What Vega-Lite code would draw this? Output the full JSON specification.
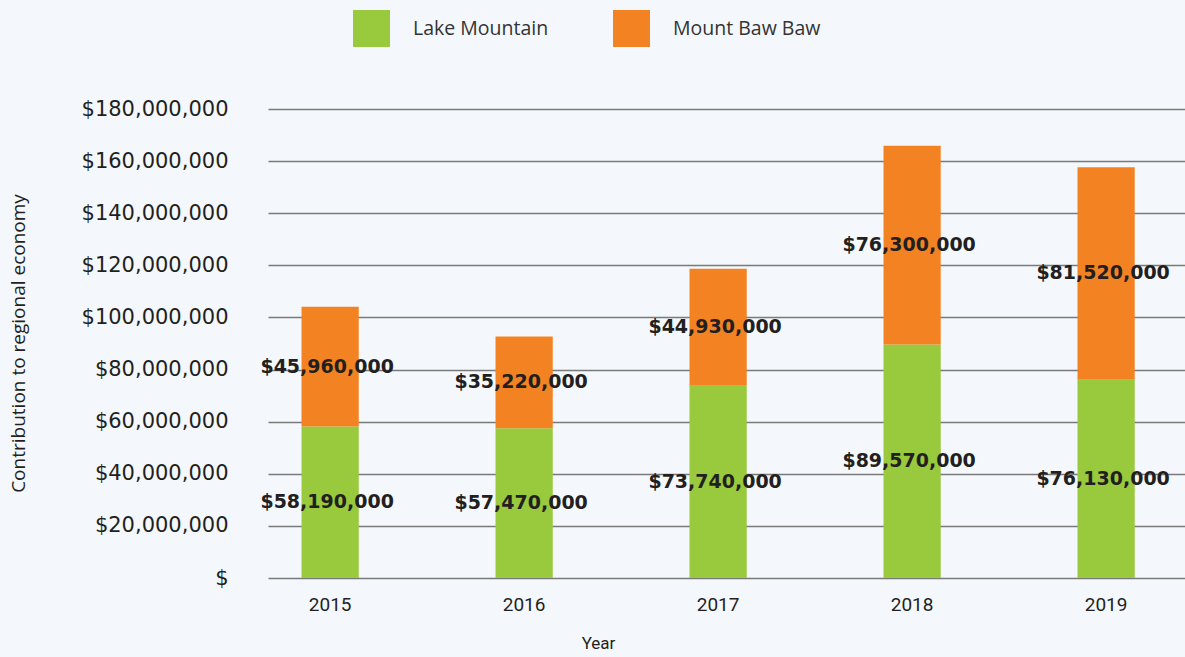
{
  "$schema": "https://vega.github.io/schema/vega-lite/v6.json",
  "width": 917,
  "height": 469,
  "autosize": {"type": "none"},
  "padding": {"left": 268, "top": 109, "right": 0, "bottom": 79},
  "background": "#f4f8fc",
  "config": {"view": {"stroke": null}, "font": "Open Sans"},
  "data": {
    "values": [
      {"year": "2015", "site": "Lake Mountain", "value": 58190000},
      {"year": "2015", "site": "Mount Baw Baw", "value": 45960000},
      {"year": "2016", "site": "Lake Mountain", "value": 57470000},
      {"year": "2016", "site": "Mount Baw Baw", "value": 35220000},
      {"year": "2017", "site": "Lake Mountain", "value": 73740000},
      {"year": "2017", "site": "Mount Baw Baw", "value": 44930000},
      {"year": "2018", "site": "Lake Mountain", "value": 89570000},
      {"year": "2018", "site": "Mount Baw Baw", "value": 76300000},
      {"year": "2019", "site": "Lake Mountain", "value": 76130000},
      {"year": "2019", "site": "Mount Baw Baw", "value": 81520000}
    ]
  },
  "encoding": {
    "x": {
      "field": "year",
      "type": "ordinal",
      "scale": {"paddingInner": 0.705, "paddingOuter": 0.216, "align": 0.4},
      "axis": {
        "labelAngle": 0,
        "domain": false,
        "ticks": false,
        "labelPadding": 17,
        "labelFont": "Roboto",
        "labelFontSize": 19,
        "labelColor": "#231f20",
        "title": "Year",
        "titleFont": "Roboto",
        "titleFontSize": 17,
        "titleFontWeight": "normal",
        "titleColor": "#231f20",
        "titleX": 330,
        "titleY": 57,
        "titleBaseline": "top"
      }
    }
  },
  "layer": [
    {
      "mark": {"type": "bar"},
      "encoding": {
        "y": {
          "field": "value",
          "type": "quantitative",
          "scale": {"domain": [0, 180000000]},
          "axis": {
            "values": [0, 20000000, 40000000, 60000000, 80000000, 100000000, 120000000, 140000000, 160000000, 180000000],
            "labelExpr": "datum.value === 0 ? '$' : '$' + format(datum.value, ',')",
            "grid": true,
            "gridColor": "#7a7a7a",
            "gridWidth": 1.3,
            "domain": false,
            "ticks": false,
            "labelPadding": 40,
            "labelFont": "DejaVu Sans",
            "labelFontSize": 21,
            "labelColor": "#231f20",
            "title": "Contribution to regional economy",
            "titleFont": "Open Sans",
            "titleFontSize": 19,
            "titleFontWeight": "normal",
            "titleColor": "#231f20",
            "titleX": -250,
            "titleY": 234,
            "titleBaseline": "middle",
            "titleAlign": "center"
          }
        },
        "color": {
          "field": "site",
          "type": "nominal",
          "scale": {"domain": ["Lake Mountain", "Mount Baw Baw"], "range": ["#99c93c", "#f38322"]},
          "legend": {
            "orient": "none",
            "legendX": 85,
            "legendY": -99,
            "direction": "horizontal",
            "title": null,
            "symbolType": "square",
            "symbolSize": 1369,
            "symbolStrokeWidth": 0,
            "symbolOpacity": 1,
            "labelFontSize": 19.5,
            "labelFont": "Open Sans",
            "labelColor": "#333333",
            "labelOffset": 23,
            "columnPadding": 64
          }
        },
        "order": {"field": "site", "sort": "ascending"}
      }
    },
    {
      "transform": [
        {"stack": "value", "groupby": ["year"], "sort": [{"field": "site"}], "as": ["v0", "v1"]},
        {"calculate": "(datum.v0 + datum.v1) / 2", "as": "mid"}
      ],
      "mark": {"type": "text", "font": "DejaVu Sans", "fontWeight": "bold", "fontSize": 19, "color": "#231f20", "dx": -3},
      "encoding": {
        "y": {"field": "mid", "type": "quantitative"},
        "text": {"field": "value", "type": "quantitative", "format": "$,.0f"}
      }
    }
  ]
}
